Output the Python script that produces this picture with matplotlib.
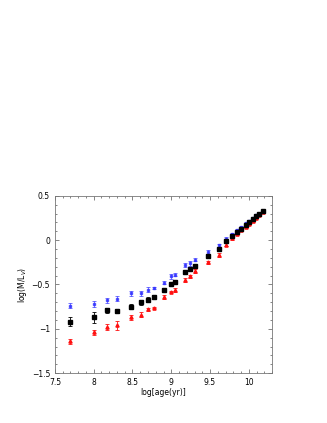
import matplotlib
matplotlib.use('Agg')
import matplotlib.pyplot as plt
from matplotlib.ticker import MultipleLocator, FuncFormatter

# log age (yr)
age = [7.7, 8.0, 8.17, 8.3, 8.48, 8.61, 8.70, 8.78, 8.91, 9.0, 9.05, 9.18, 9.24,
       9.31, 9.48, 9.61, 9.70, 9.78, 9.85, 9.90, 9.96, 10.0, 10.05, 10.09, 10.13, 10.18]

# log(M/L_V) for the three sets
ml_black = [-0.92, -0.87, -0.79, -0.80, -0.75, -0.70, -0.67, -0.64, -0.56, -0.49, -0.47,
            -0.36, -0.33, -0.29, -0.18, -0.10, -0.01, 0.045, 0.09, 0.13, 0.17, 0.21,
            0.24, 0.27, 0.30, 0.33]
err_black = [0.05, 0.06, 0.03, 0.02, 0.03, 0.03, 0.03, 0.02, 0.02, 0.02, 0.02, 0.02, 0.02,
             0.02, 0.02, 0.02, 0.02, 0.015, 0.015, 0.015, 0.01, 0.01, 0.01, 0.01, 0.01, 0.01]
ml_blue = [-0.74, -0.72, -0.68, -0.66, -0.60, -0.60, -0.56, -0.54, -0.48, -0.41, -0.39,
           -0.28, -0.26, -0.22, -0.135, -0.06, 0.015, 0.07, 0.115, 0.15, 0.19, 0.22,
           0.25, 0.28, 0.30, 0.33]
err_blue = [0.03, 0.03, 0.03, 0.03, 0.03, 0.03, 0.03, 0.015, 0.02, 0.03, 0.02, 0.02, 0.03,
            0.02, 0.02, 0.02, 0.015, 0.015, 0.015, 0.01, 0.01, 0.01, 0.01, 0.01, 0.01, 0.01]
ml_red = [-1.14, -1.04, -0.98, -0.96, -0.87, -0.84, -0.78, -0.76, -0.64, -0.58, -0.56,
          -0.45, -0.41, -0.35, -0.25, -0.165, -0.05, 0.02, 0.065, 0.11, 0.15, 0.18,
          0.22, 0.25, 0.28, 0.32]
err_red = [0.03, 0.03, 0.03, 0.05, 0.03, 0.03, 0.02, 0.01, 0.02, 0.01, 0.02, 0.02, 0.02,
           0.02, 0.02, 0.02, 0.015, 0.015, 0.01, 0.01, 0.01, 0.01, 0.01, 0.01, 0.01, 0.01]

fig = plt.figure(figsize=(3.27, 4.23), dpi=100)
ax = fig.add_axes([0.168, 0.118, 0.664, 0.419])

ax.errorbar(age, ml_blue, yerr=err_blue, fmt='s', color='#3333ff', ms=1.8, capsize=1.5,
            elinewidth=0.6, capthick=0.6, alpha=0.8)
ax.errorbar(age, ml_red, yerr=err_red, fmt='^', color='#ff1111', ms=2.3, capsize=1.5,
            elinewidth=0.6, capthick=0.6)
ax.errorbar(age, ml_black, yerr=err_black, fmt='s', color='black', ms=2.2, capsize=1.5,
            elinewidth=0.6, capthick=0.6)

ax.set_xlim(7.5, 10.3)
ax.set_ylim(-1.5, 0.5)
fmt = FuncFormatter(lambda v, p: ('%g' % v).replace('-', '\u2212'))
ax.xaxis.set_major_locator(MultipleLocator(0.5))
ax.xaxis.set_minor_locator(MultipleLocator(0.1))
ax.yaxis.set_major_locator(MultipleLocator(0.5))
ax.yaxis.set_minor_locator(MultipleLocator(0.1))
ax.xaxis.set_major_formatter(fmt)
ax.yaxis.set_major_formatter(fmt)
ax.tick_params(which='both', direction='in', top=True, right=True, labelsize=5.5,
               colors='#555555', labelcolor='black', width=0.5)
ax.tick_params(which='major', length=3)
ax.tick_params(which='minor', length=1.5)
for s in ax.spines.values():
    s.set_color('#777777')
    s.set_linewidth(0.6)

ax.set_xlabel('log[age(yr)]', fontsize=5.5, labelpad=1)
ax.set_ylabel('log(M/L$_V$)', fontsize=5.5, labelpad=2)

fig.savefig('out.png', dpi=100)
